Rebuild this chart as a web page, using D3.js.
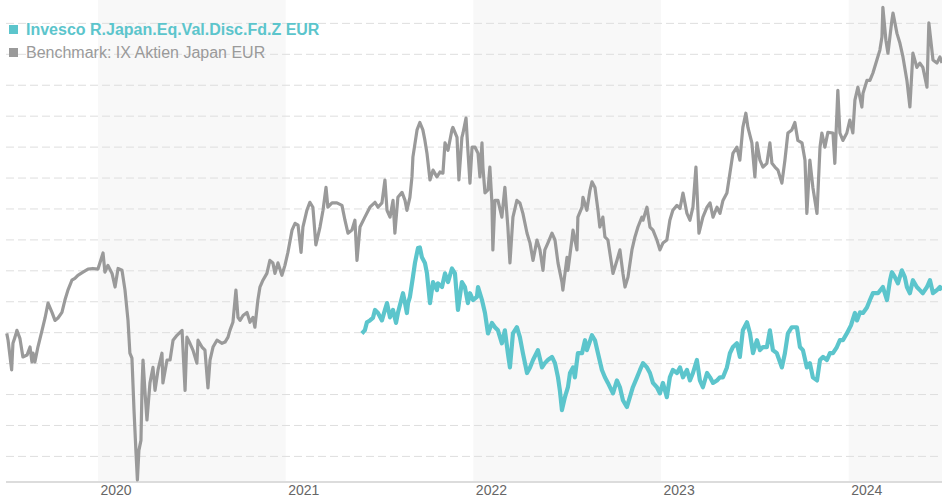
<!DOCTYPE html>
<html>
<head>
<meta charset="utf-8">
<style>
    body { margin: 0; background: #fff; }
    svg { display: block; font-family: "Liberation Sans", Arial, sans-serif; }
    .grid line { stroke: #dedede; stroke-dasharray: 8, 4; }
    .grid .domain { display: none; }
    .xaxis .domain { stroke: #dcdcdc; stroke-width: 2; }
    .xaxis text { fill: #666; font-size: 14px; }
</style>
</head>
<body>
<svg id="chart" width="942" height="500"></svg>
<script src="https://cdn.jsdelivr.net/npm/d3@7"></script>
<script>
    const fundName = "Invesco R.Japan.Eq.Val.Disc.Fd.Z EUR"
    const benchName = "Benchmark: IX Aktien Japan EUR"
    const yearTicks = [2020, 2021, 2022, 2023, 2024]
    const shadedYears = [2020, 2022, 2024]

    // [decimal year, change in %]
    const benchmark = [
        [2019.514,-0.2],[2019.521,-1.3],[2019.540,-6.1],[2019.547,-1.8],[2019.558,-0.8],[2019.568,0.3],[2019.584,-1.0],
        [2019.600,-4.0],[2019.622,-3.7],[2019.638,-2.4],[2019.648,-4.8],[2019.654,-3.4],[2019.664,-4.8],[2019.680,-2.4],
        [2019.702,0.3],[2019.718,2.3],[2019.734,4.7],[2019.755,3.2],[2019.771,1.9],[2019.787,2.3],[2019.808,3.2],
        [2019.824,5.2],[2019.840,6.8],[2019.861,8.4],[2019.877,8.7],[2019.893,9.2],[2019.920,9.7],[2019.947,10.2],
        [2019.973,10.3],[2020.000,10.2],[2020.027,12.8],[2020.037,9.7],[2020.053,10.8],[2020.075,9.5],[2020.091,7.3],
        [2020.107,10.3],[2020.128,10.0],[2020.144,6.8],[2020.160,1.9],[2020.170,-3.4],[2020.181,-4.2],[2020.192,-12.6],
        [2020.202,-19.1],[2020.210,-23.9],[2020.218,-19.1],[2020.229,-17.5],[2020.235,-8.6],[2020.240,-4.5],[2020.250,-9.4],
        [2020.261,-14.2],[2020.277,-8.2],[2020.293,-5.7],[2020.304,-9.4],[2020.320,-6.1],[2020.341,-3.4],[2020.346,-8.2],
        [2020.368,-4.5],[2020.384,-4.5],[2020.400,-1.3],[2020.421,-0.5],[2020.448,0.3],[2020.464,-9.4],[2020.474,-0.8],
        [2020.490,-1.8],[2020.506,-2.9],[2020.527,-5.0],[2020.533,-1.3],[2020.554,-2.4],[2020.570,-2.9],[2020.586,-9.0],
        [2020.597,-4.5],[2020.613,-2.4],[2020.634,-1.3],[2020.661,-1.8],[2020.677,-1.6],[2020.693,-0.8],[2020.703,0.3],
        [2020.719,1.6],[2020.735,6.8],[2020.746,2.4],[2020.757,1.9],[2020.773,2.7],[2020.794,3.2],[2020.810,1.6],
        [2020.826,2.4],[2020.836,0.8],[2020.852,5.2],[2020.863,7.3],[2020.879,8.4],[2020.900,9.5],[2020.916,11.6],
        [2020.932,11.2],[2020.943,9.5],[2020.959,11.2],[2020.980,9.2],[2020.996,10.8],[2021.012,12.9],[2021.034,16.5],
        [2021.050,17.6],[2021.066,17.3],[2021.082,12.9],[2021.092,17.0],[2021.113,19.7],[2021.129,21.0],[2021.145,20.2],
        [2021.161,14.1],[2021.183,17.0],[2021.199,19.7],[2021.215,23.4],[2021.225,20.2],[2021.247,20.9],[2021.273,20.9],
        [2021.300,20.5],[2021.316,18.1],[2021.332,16.0],[2021.353,16.5],[2021.369,18.1],[2021.380,11.6],[2021.396,17.0],
        [2021.422,18.6],[2021.449,20.2],[2021.476,21.0],[2021.492,20.2],[2021.513,20.9],[2021.529,24.6],[2021.540,19.7],
        [2021.556,18.6],[2021.572,21.3],[2021.582,16.0],[2021.598,21.8],[2021.620,22.6],[2021.636,21.3],[2021.646,19.7],
        [2021.662,21.8],[2021.673,25.1],[2021.678,28.3],[2021.700,32.7],[2021.715,33.9],[2021.731,32.7],[2021.742,31.0],
        [2021.753,28.9],[2021.769,24.6],[2021.785,26.2],[2021.806,25.1],[2021.822,25.9],[2021.838,25.7],[2021.849,30.6],
        [2021.865,29.4],[2021.886,32.7],[2021.891,33.1],[2021.913,31.5],[2021.923,24.6],[2021.939,31.5],[2021.945,32.2],
        [2021.961,34.6],[2021.971,29.4],[2021.982,24.1],[2021.993,29.9],[2022.009,29.9],[2022.025,28.9],[2022.035,25.1],
        [2022.046,30.6],[2022.051,26.7],[2022.062,22.5],[2022.078,23.0],[2022.088,26.7],[2022.099,20.9],[2022.104,13.3],
        [2022.115,21.3],[2022.131,21.3],[2022.152,18.6],[2022.168,23.4],[2022.184,17.0],[2022.195,11.2],[2022.211,18.6],
        [2022.232,21.3],[2022.248,20.9],[2022.264,19.2],[2022.286,16.0],[2022.302,14.4],[2022.318,11.6],[2022.339,14.9],
        [2022.355,13.3],[2022.371,10.0],[2022.381,13.3],[2022.397,14.4],[2022.419,16.0],[2022.435,14.9],[2022.451,11.2],
        [2022.461,9.7],[2022.472,8.1],[2022.477,6.8],[2022.499,12.1],[2022.504,10.0],[2022.525,14.9],[2022.531,16.5],
        [2022.552,13.3],[2022.557,18.6],[2022.579,20.2],[2022.584,21.8],[2022.605,19.7],[2022.621,22.9],[2022.632,24.3],
        [2022.648,23.4],[2022.664,19.7],[2022.674,17.0],[2022.690,18.6],[2022.701,15.4],[2022.717,14.9],[2022.744,9.5],
        [2022.765,11.6],[2022.781,13.3],[2022.797,9.5],[2022.808,7.3],[2022.824,8.9],[2022.845,13.3],[2022.861,15.4],
        [2022.877,17.0],[2022.898,18.6],[2022.904,18.1],[2022.925,20.2],[2022.941,17.0],[2022.957,16.5],[2022.978,14.9],
        [2022.994,13.3],[2023.010,14.4],[2023.031,14.9],[2023.047,18.1],[2023.063,19.7],[2023.085,20.5],[2023.101,20.0],
        [2023.117,22.5],[2023.138,19.2],[2023.154,18.1],[2023.170,20.2],[2023.186,26.7],[2023.202,16.0],[2023.223,18.6],
        [2023.245,20.2],[2023.261,20.9],[2023.277,18.6],[2023.298,20.2],[2023.314,19.2],[2023.330,21.3],[2023.351,22.5],
        [2023.367,25.7],[2023.383,28.9],[2023.404,29.9],[2023.420,27.8],[2023.436,33.1],[2023.452,35.4],[2023.463,33.1],
        [2023.484,30.6],[2023.500,25.1],[2023.511,30.6],[2023.527,27.8],[2023.543,26.7],[2023.564,27.3],[2023.580,30.6],
        [2023.591,27.3],[2023.607,26.7],[2023.623,26.2],[2023.644,24.1],[2023.660,27.8],[2023.676,32.2],[2023.697,32.7],
        [2023.713,33.9],[2023.729,31.0],[2023.751,30.6],[2023.767,27.8],[2023.777,19.2],[2023.793,27.8],[2023.809,23.4],
        [2023.831,19.2],[2023.847,29.9],[2023.857,32.2],[2023.873,29.9],[2023.889,32.3],[2023.916,32.2],[2023.926,27.3],
        [2023.942,39.1],[2023.953,32.2],[2023.969,31.0],[2023.990,32.2],[2024.006,34.3],[2024.022,32.2],[2024.033,37.5],
        [2024.049,39.6],[2024.070,36.4],[2024.076,38.6],[2024.097,40.7],[2024.113,40.7],[2024.129,41.9],[2024.150,44.0],
        [2024.166,45.6],[2024.177,47.7],[2024.182,52.5],[2024.198,47.2],[2024.209,45.1],[2024.230,50.4],[2024.236,51.6],
        [2024.257,48.3],[2024.273,46.7],[2024.289,44.5],[2024.310,40.7],[2024.326,36.4],[2024.342,45.1],[2024.363,42.8],
        [2024.379,43.5],[2024.395,42.8],[2024.417,39.6],[2024.427,50.0],[2024.449,44.0],[2024.470,43.5],[2024.486,44.5],
        [2024.497,43.5]
    ]

    const fund = [
        [2021.406,-0.2],[2021.422,0.3],[2021.433,1.6],[2021.449,1.9],[2021.465,2.3],[2021.476,3.6],[2021.492,3.1],
        [2021.513,1.9],[2021.529,3.6],[2021.540,4.7],[2021.556,2.4],[2021.572,3.6],[2021.588,1.5],[2021.598,3.1],
        [2021.620,5.7],[2021.625,6.3],[2021.636,4.7],[2021.646,3.1],[2021.652,4.7],[2021.662,5.7],[2021.678,8.9],
        [2021.689,11.2],[2021.705,13.6],[2021.715,13.7],[2021.726,12.1],[2021.742,11.2],[2021.753,9.5],[2021.769,4.7],
        [2021.785,8.1],[2021.806,6.8],[2021.811,7.9],[2021.833,7.3],[2021.849,9.5],[2021.865,8.1],[2021.886,10.3],
        [2021.902,9.5],[2021.918,3.6],[2021.939,8.1],[2021.955,7.3],[2021.971,4.7],[2021.982,6.3],[2021.998,5.2],
        [2022.019,5.7],[2022.025,7.3],[2022.046,5.2],[2022.062,3.1],[2022.078,-0.2],[2022.099,1.5],[2022.115,0.8],
        [2022.131,0.3],[2022.152,-1.8],[2022.168,0.3],[2022.184,-3.4],[2022.195,-5.7],[2022.211,-0.2],[2022.232,0.8],
        [2022.248,-0.8],[2022.264,-3.4],[2022.286,-6.6],[2022.302,-5.7],[2022.318,-4.5],[2022.344,-2.9],[2022.366,-5.7],
        [2022.381,-5.0],[2022.397,-4.5],[2022.419,-4.0],[2022.435,-5.0],[2022.451,-7.3],[2022.461,-9.4],[2022.472,-12.6],
        [2022.488,-10.5],[2022.504,-8.9],[2022.515,-6.6],[2022.531,-5.7],[2022.541,-7.3],[2022.557,-3.4],[2022.579,-3.4],
        [2022.595,-1.3],[2022.605,-2.9],[2022.632,-0.5],[2022.648,-1.3],[2022.664,-3.4],[2022.685,-6.1],[2022.701,-7.3],
        [2022.717,-8.2],[2022.744,-9.9],[2022.765,-7.8],[2022.781,-8.9],[2022.797,-11.0],[2022.818,-12.1],[2022.834,-10.5],
        [2022.850,-8.9],[2022.872,-7.3],[2022.888,-6.1],[2022.904,-5.0],[2022.925,-5.7],[2022.941,-6.6],[2022.957,-8.2],
        [2022.978,-8.9],[2022.994,-9.9],[2023.010,-8.2],[2023.031,-10.5],[2023.047,-7.3],[2023.063,-6.1],[2023.085,-6.6],
        [2023.101,-5.7],[2023.117,-7.3],[2023.138,-6.1],[2023.154,-7.8],[2023.170,-6.6],[2023.191,-4.5],[2023.207,-7.8],
        [2023.223,-8.9],[2023.245,-6.6],[2023.261,-7.3],[2023.277,-8.2],[2023.298,-7.8],[2023.314,-7.3],[2023.330,-7.3],
        [2023.351,-5.7],[2023.367,-3.4],[2023.383,-2.4],[2023.404,-1.8],[2023.420,-4.0],[2023.436,0.3],[2023.458,1.6],
        [2023.474,-0.2],[2023.490,-3.4],[2023.511,-1.3],[2023.527,-2.9],[2023.543,-2.4],[2023.564,-2.4],[2023.580,0.3],
        [2023.596,-2.9],[2023.617,-3.4],[2023.644,-5.7],[2023.660,-3.4],[2023.676,-0.2],[2023.697,0.8],[2023.724,0.8],
        [2023.740,-2.4],[2023.756,-2.9],[2023.777,-5.7],[2023.793,-5.0],[2023.809,-7.3],[2023.831,-7.8],[2023.847,-4.5],
        [2023.863,-4.0],[2023.884,-4.5],[2023.900,-3.4],[2023.916,-3.4],[2023.937,-2.4],[2023.953,-1.3],[2023.969,-1.3],
        [2023.990,-0.2],[2024.012,1.1],[2024.033,3.1],[2024.044,1.9],[2024.060,3.2],[2024.076,3.1],[2024.097,4.0],
        [2024.113,5.2],[2024.129,6.3],[2024.156,6.3],[2024.182,7.3],[2024.204,5.2],[2024.220,8.4],[2024.230,9.7],
        [2024.246,8.9],[2024.262,7.9],[2024.283,10.0],[2024.299,8.9],[2024.310,7.3],[2024.326,6.3],[2024.342,8.4],
        [2024.363,7.3],[2024.379,6.8],[2024.395,6.3],[2024.417,7.3],[2024.433,8.4],[2024.449,6.3],[2024.470,6.8],
        [2024.486,7.3],[2024.497,6.8]
    ]

    const width = 942
    const plotBottom = 482
    const teal = "#5cc5cc"
    const grey = "#9a9a9a"

    let svg = d3.select("#chart")

    let x = d3.scaleLinear().domain([2019.478, 2024.497]).range([0, width])
    let y = d3.scaleLinear().domain([-24.22, 53.7]).range([plotBottom, 0])

    // alternating year bands
    svg.append("g")
        .selectAll("rect")
        .data(shadedYears)
        .enter()
        .append("rect")
        .attr("x", d => x(d))
        .attr("y", 0)
        .attr("width", d => Math.min(x(d + 1), width) - x(d))
        .attr("height", plotBottom)
        .attr("fill", "#f8f8f8")

    // dashed horizontal grid
    svg.append("g")
        .attr("class", "grid")
        .attr("transform", "translate(6,0)")
        .call(d3.axisRight(y).ticks(16).tickSize(width - 6).tickFormat(""))

    // x axis
    let xAxis = svg.append("g")
        .attr("class", "xaxis")
        .attr("transform", `translate(0,${plotBottom})`)
        .call(d3.axisBottom(x).tickValues(yearTicks).tickFormat(d3.format("d")).tickSize(0).tickSizeOuter(0))
    xAxis.select(".domain").attr("d", `M6,0H${width}`)
    xAxis.selectAll("text")
        .attr("text-anchor", "start")
        .attr("dx", 2)
        .attr("y", 3)

    let line = d3.line()
        .x(d => x(d[0]))
        .y(d => y(d[1]))

    svg.append("path")
        .datum(benchmark)
        .attr("fill", "none")
        .attr("stroke", grey)
        .attr("stroke-width", 3.2)
        .attr("stroke-linejoin", "round")
        .attr("d", line)

    svg.append("path")
        .datum(fund)
        .attr("fill", "none")
        .attr("stroke", teal)
        .attr("stroke-width", 4.2)
        .attr("stroke-linejoin", "round")
        .attr("d", line)

    // legend
    let legendItems = [
        { name: fundName, color: teal, weight: "bold" },
        { name: benchName, color: grey, weight: "normal" }
    ]
    let legend = svg.append("g")
        .selectAll("g")
        .data(legendItems)
        .enter()
        .append("g")
        .attr("transform", (d, i) => `translate(9,${25 + i * 23})`)
    legend.append("rect")
        .attr("width", 9)
        .attr("height", 9)
        .attr("fill", d => d.color)
    legend.append("text")
        .attr("x", 17)
        .attr("y", 10)
        .attr("fill", d => d.color)
        .attr("font-size", "16px")
        .attr("font-weight", d => d.weight)
        .text(d => d.name)
</script>
</body>
</html>
